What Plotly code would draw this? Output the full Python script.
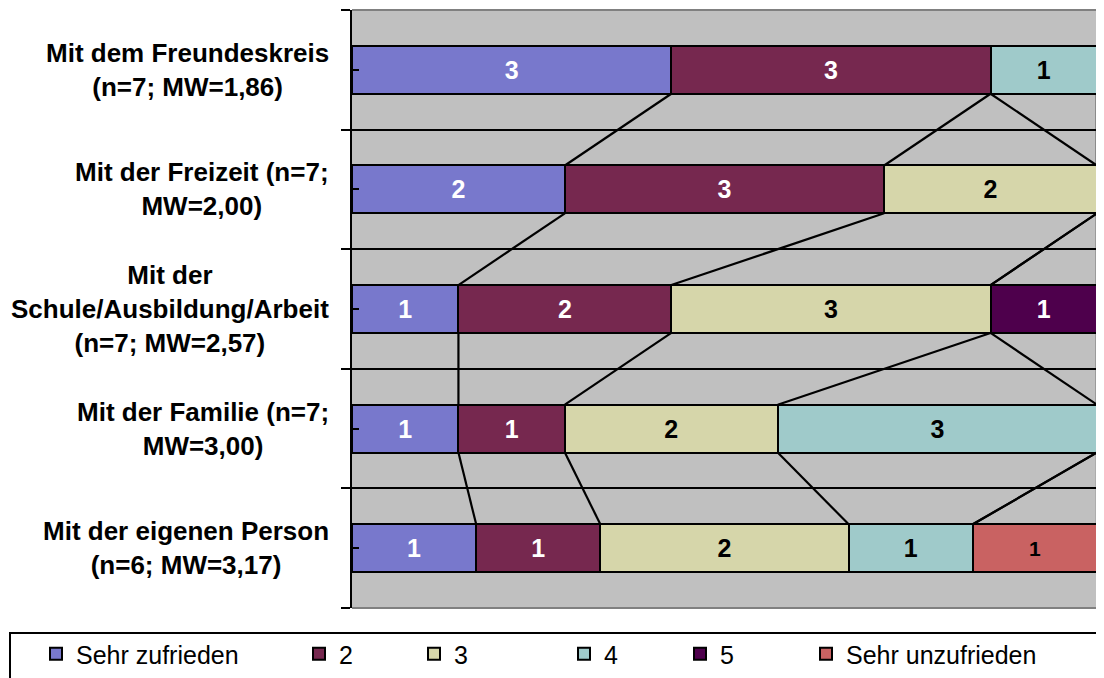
import plotly.graph_objects as go

# ---------------- data ----------------
category_labels = [
    "Mit dem Freundeskreis<br>(n=7; MW=1,86)",
    "Mit der Freizeit (n=7;<br>MW=2,00)",
    "Mit der<br>Schule/Ausbildung/Arbeit<br>(n=7; MW=2,57)",
    "Mit der Familie (n=7;<br>MW=3,00)",
    "Mit der eigenen Person<br>(n=6; MW=3,17)",
]
series_names = ["Sehr zufrieden", "2", "3", "4", "5", "Sehr unzufrieden"]
sehr_zufrieden = [3, 2, 1, 1, 1]
stufe_2 = [3, 3, 2, 1, 1]
stufe_3 = [0, 2, 3, 2, 2]
stufe_4 = [1, 0, 0, 3, 1]
stufe_5 = [0, 0, 1, 0, 0]
sehr_unzufrieden = [0, 0, 0, 0, 1]

series_values = [sehr_zufrieden, stufe_2, stufe_3, stufe_4, stufe_5, sehr_unzufrieden]
series_colors = ["#7878CC", "#76284F", "#D6D6AA", "#9FCACA", "#4E004C", "#C96262"]
text_colors = ["white", "white", "black", "black", "white", "black"]
text_sizes = [25, 25, 25, 25, 25, 21]

FONT = "Arial, Liberation Sans, sans-serif"
BAR_W = 0.4

n_cat = len(category_labels)
totals = [sum(s[i] for s in series_values) for i in range(n_cat)]
idx = list(range(n_cat))

# page body has an 8px margin -> work in screen pixels and subtract it
OFF = 8
W, H = 1104 - OFF, 678 - OFF
PLOT_L, PLOT_R, PLOT_T, PLOT_B = 352 - OFF, 1097 - OFF, 10 - OFF, 608 - OFF
PW = PLOT_R - PLOT_L
PH = PLOT_B - PLOT_T


def px_x(p):
    return (p - OFF - PLOT_L) / PW


def px_y(p):
    return (PLOT_B - (p - OFF)) / PH


# legend text start positions (screen px)
legend_text_px = [75, 338, 453, 603, 719, 845]

fig = go.Figure()

for k, (name, vals) in enumerate(zip(series_names, series_values)):
    pct = [v / t * 100 if v else None for v, t in zip(vals, totals)]
    txt = [str(v) if v else "" for v in vals]
    lg = "legend" if k == 0 else f"legend{k+1}"
    fig.add_trace(go.Bar(
        y=idx, x=pct, orientation="h", name=name, width=BAR_W,
        marker=dict(color=series_colors[k], line=dict(color="black", width=2)),
        text=txt, textposition="inside", insidetextanchor="middle",
        textangle=0, constraintext="none",
        textfont=dict(family=FONT, size=text_sizes[k], color=text_colors[k], weight="bold"),
        legend=lg, hoverinfo="skip",
    ))

# series lines connecting segment ends between neighbouring bars
lx, ly = [], []
for i in range(n_cat - 1):
    cum_a, cum_b = 0, 0
    for vals in series_values:
        cum_a += vals[i]
        cum_b += vals[i + 1]
        lx += [cum_a / totals[i] * 100, cum_b / totals[i + 1] * 100, None]
        ly += [i + BAR_W / 2, i + 1 - BAR_W / 2, None]
fig.add_trace(go.Scatter(x=lx, y=ly, mode="lines", line=dict(color="black", width=2.2),
                         showlegend=False, hoverinfo="skip"))

# category labels (centered lines, right-aligned block)
annotations = []
for i, lab in enumerate(category_labels):
    annotations.append(dict(
        text=f"<b>{lab}</b>", xref="paper", yref="y", x=px_x(331), y=i,
        xanchor="right", yanchor="middle", align="center", showarrow=False,
        font=dict(family=FONT, size=26, color="black"),
    ))

shapes = [
    # plot area border (top, right, bottom) in gray
    dict(type="path", xref="paper", yref="paper", path="M 0,1 L 1,1 L 1,0 L 0,0",
         line=dict(color="#808080", width=2), layer="above"),
    # legend box
    dict(type="rect", xref="paper", yref="paper",
         x0=px_x(10), x1=px_x(1115), y0=px_y(633), y1=px_y(700),
         line=dict(color="black", width=2), fillcolor="rgba(0,0,0,0)"),
]

layout_legends = {}
for k in range(len(series_names)):
    key = "legend" if k == 0 else f"legend{k+1}"
    layout_legends[key] = dict(
        x=px_x(legend_text_px[k] - 39), xanchor="left",
        y=px_y(654), yanchor="middle",
        orientation="h", bgcolor="rgba(0,0,0,0)", borderwidth=0,
        font=dict(family=FONT, size=25, color="black"),
    )

fig.update_layout(
    width=W, height=H,
    margin=dict(l=PLOT_L, r=W - PLOT_R, t=PLOT_T, b=H - PLOT_B, autoexpand=False),
    barmode="stack", bargap=0.6,
    paper_bgcolor="white", plot_bgcolor="#C0C0C0",
    font=dict(family=FONT, color="black"),
    xaxis=dict(range=[0, 100], visible=False, fixedrange=True),
    yaxis=dict(
        range=[n_cat - 0.5, -0.5], showticklabels=False,
        tickmode="array", tickvals=[i - 0.5 for i in range(n_cat + 1)],
        ticks="outside", ticklen=9, tickwidth=2, tickcolor="black",
        showgrid=True, gridcolor="black", gridwidth=2, zeroline=False,
        showline=True, linecolor="black", linewidth=2,
        minor=dict(tick0=0, dtick=1, ticks="inside", ticklen=7, tickwidth=2,
                   tickcolor="black", showgrid=False),
    ),
    annotations=annotations, shapes=shapes, showlegend=True,
    **layout_legends,
)

fig.write_html("out.html")
